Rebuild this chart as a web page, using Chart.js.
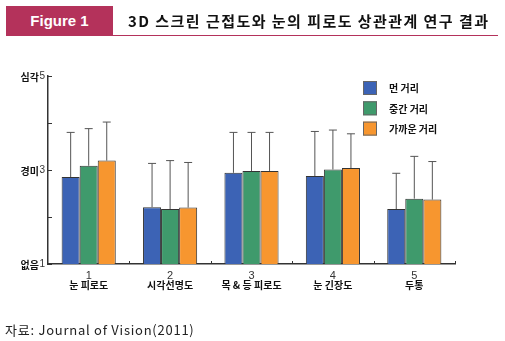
<!DOCTYPE html>
<html>
<head>
<meta charset="utf-8">
<script src="https://cdn.jsdelivr.net/npm/chart.js@4.4.0/dist/chart.umd.min.js"></script>
<style>
  html, body { margin: 0; padding: 0; background: #fff; }
  #wrap { position: relative; width: 505px; height: 341px; overflow: hidden; }
  #chart { position: absolute; left: 0; top: 0; }
  #fig { position: absolute; left: 6px; top: 6px; width: 107px; height: 30px; background: #b4325b;
         color: #fff; font: bold 15px "Liberation Sans", Arial, sans-serif; line-height: 30px; text-align: center; }
  #rule { position: absolute; left: 113px; top: 35px; width: 385px; height: 1px; background: #b4325b; }
  #title { position: absolute; left: 128px; top: 11px; font: bold 15px "Noto Sans CJK KR", sans-serif;
           color: #111; line-height: 20px; white-space: nowrap; letter-spacing: 1.45px; }
  #src { position: absolute; left: 5px; top: 321px; font: 13px "Noto Sans CJK KR", sans-serif; color: #222;
         line-height: 18px; white-space: nowrap; letter-spacing: 0.75px; }
</style>
</head>
<body>
<div id="wrap">
  <canvas id="chart" width="505" height="341"></canvas>
  <div id="fig">Figure 1</div>
  <div id="rule"></div>
  <div id="title">3D 스크린 근접도와 눈의 피로도 상관관계 연구 결과</div>
  <div id="src">자료: Journal of Vision(2011)</div>
</div>
<script>
// categories
const categories = ['눈 피로도', '시각선명도', '목 & 등 피로도', '눈 긴장도', '두통'];
const seriesNames = ['먼 거리', '중간 거리', '가까운 거리'];

// mean scores (1 = 없음, 3 = 경미, 5 = 심각)
const farVals  = [2.85, 2.21, 2.94, 2.87, 2.17];
const midVals  = [3.09, 2.17, 2.98, 3.01, 2.39];
const nearVals = [3.20, 2.20, 2.98, 3.04, 2.37];

// upper error (SD)
const farErr  = [0.95, 0.93, 0.86, 0.95, 0.76];
const midErr  = [0.79, 1.03, 0.82, 0.84, 0.90];
const nearErr = [0.82, 0.96, 0.82, 0.73, 0.81];

const yTicks = [1, 3, 5];
const yWords = {1: '없음', 3: '경미', 5: '심각'};

const colors = ['#3c63b5', '#3f9a6c', '#f7962f'];
const errs = [farErr, midErr, nearErr];

const extras = {
  id: 'extras',
  afterDatasetsDraw(chart) {
    const c = chart.ctx, x = chart.scales.x, y = chart.scales.y, a = chart.chartArea;
    // error bars
    c.save();
    c.strokeStyle = '#555';
    c.lineWidth = 1;
    chart.data.datasets.forEach((ds, i) => {
      chart.getDatasetMeta(i).data.forEach((bar, j) => {
        const top = y.getPixelForValue(ds.data[j] + errs[i][j]);
        c.beginPath();
        c.moveTo(bar.x, bar.y);
        c.lineTo(bar.x, top);
        c.moveTo(bar.x - 4, top);
        c.lineTo(bar.x + 4, top);
        c.stroke();
      });
    });
    // inward y ticks
    c.strokeStyle = '#333';
    for (let v = 1; v <= 5; v++) {
      const py = Math.round(y.getPixelForValue(v)) + 0.5;
      c.beginPath(); c.moveTo(a.left, py); c.lineTo(a.left + 4, py); c.stroke();
    }
    // category boundary ticks
    const half = (x.getPixelForValue(1) - x.getPixelForValue(0)) / 2;
    categories.forEach((_, i) => {
      const px = Math.round(x.getPixelForValue(i) + half) + 0.5;
      c.beginPath(); c.moveTo(px, a.bottom); c.lineTo(px, a.bottom - 3); c.stroke();
    });
    // y words
    c.fillStyle = '#111';
    c.font = 'bold 10px "Noto Sans CJK KR", sans-serif';
    c.textAlign = 'right';
    c.textBaseline = 'middle';
    yTicks.forEach(v => c.fillText(yWords[v], 39, y.getPixelForValue(v) + 1));
    // category names
    c.textAlign = 'center';
    categories.forEach((name, i) => c.fillText(name, x.getPixelForValue(i), 285));
    // legend
    c.textAlign = 'left';
    chart.data.datasets.forEach((ds, i) => {
      const ly = 81 + i * 20.3;
      c.fillStyle = ds.backgroundColor;
      c.fillRect(363, ly, 14, 14);
      c.strokeStyle = '#666';
      c.strokeRect(363.5, ly + 0.5, 13, 13);
      c.fillStyle = '#111';
      c.fillText(ds.label, 389, ly + 7.5);
    });
    c.restore();
  }
};

new Chart(document.getElementById('chart'), {
  type: 'bar',
  data: {
    labels: categories,
    datasets: [farVals, midVals, nearVals].map((d, i) => ({
      label: seriesNames[i],
      data: d,
      backgroundColor: colors[i],
      borderColor: '#333',
      borderWidth: 1,
      categoryPercentage: 0.665,
      barPercentage: 1.0
    }))
  },
  options: {
    responsive: false,
    animation: false,
    layout: { padding: { top: 76, right: 50, left: 0, bottom: 0 } },
    plugins: { legend: { display: false }, tooltip: { enabled: false } },
    scales: {
      x: {
        grid: { display: false, drawTicks: false },
        border: { display: true, color: '#333', width: 1.5 },
        ticks: {
          padding: 5,
          color: '#333',
          font: { family: '"Liberation Sans", Arial, sans-serif', size: 11 },
          callback: (v, i) => String(i + 1)
        },
        afterFit: s => { s.height = 77; }
      },
      y: {
        min: 1, max: 5,
        grid: { display: false, drawTicks: false },
        border: { display: true, color: '#333', width: 1.5 },
        ticks: {
          stepSize: 1,
          padding: 3,
          color: '#333',
          font: { family: '"Liberation Sans", Arial, sans-serif', size: 10 },
          callback: v => yTicks.includes(v) ? String(v) : ''
        },
        afterFit: s => { s.width = 48; }
      }
    }
  },
  plugins: [extras]
});
</script>
</body>
</html>
